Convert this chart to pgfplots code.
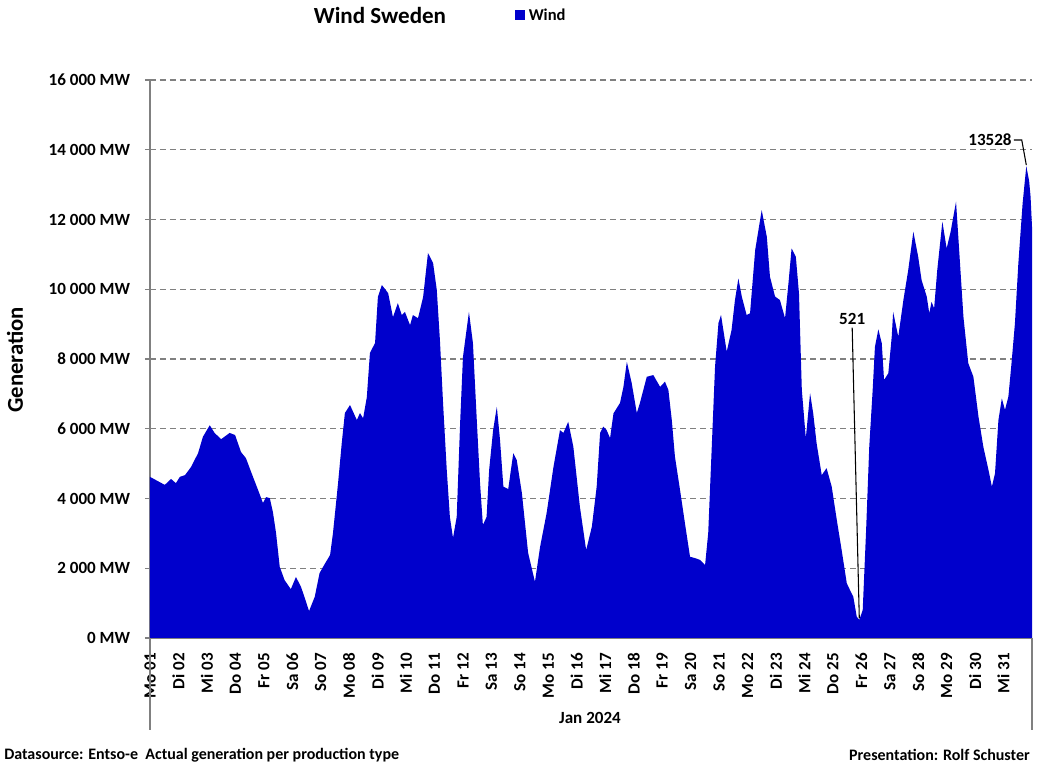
\documentclass[border=0pt]{standalone}
\usepackage{fontspec}
\setmainfont{Carlito}
\usepackage{pgfplots}
\pgfplotsset{compat=1.18}
\usepackage{pgfplotstable}
\definecolor{windblue}{RGB}{0,0,204}
\definecolor{gridgray}{RGB}{128,128,128}
\pgfplotstableread{
d MW
0.00 4620
0.52 4390
0.74 4560
0.91 4440
1.05 4620
1.23 4670
1.44 4900
1.69 5300
1.86 5770
2.10 6100
2.27 5880
2.50 5700
2.80 5880
2.99 5820
3.20 5330
3.37 5160
3.62 4620
3.80 4240
3.97 3870
4.08 4040
4.21 4010
4.32 3610
4.43 3010
4.56 2040
4.73 1660
4.95 1400
5.13 1750
5.31 1460
5.44 1150
5.59 770
5.79 1180
5.96 1860
6.14 2120
6.33 2380
6.43 3000
6.61 4440
6.74 5590
6.85 6450
7.03 6680
7.27 6250
7.38 6450
7.49 6300
7.62 6900
7.73 8170
7.91 8460
8.01 9780
8.15 10120
8.37 9890
8.54 9200
8.71 9600
8.85 9260
8.96 9350
9.14 8970
9.24 9260
9.42 9170
9.60 9780
9.77 11040
9.95 10750
10.08 9980
10.19 8540
10.30 6740
10.43 4820
10.54 3470
10.65 2870
10.78 3470
10.90 6160
11.00 8060
11.21 9350
11.35 8460
11.48 6340
11.60 4440
11.70 3240
11.83 3470
11.92 4820
12.06 5960
12.19 6630
12.30 5700
12.42 4340
12.59 4270
12.77 5300
12.89 5100
13.07 4160
13.29 2440
13.53 1610
13.71 2610
13.94 3580
14.18 4900
14.41 5960
14.53 5880
14.70 6200
14.88 5480
15.11 3760
15.33 2520
15.53 3190
15.70 4340
15.82 5880
15.93 6060
16.05 5960
16.17 5730
16.29 6440
16.52 6740
16.64 7200
16.76 7920
16.93 7310
17.11 6450
17.22 6740
17.46 7490
17.69 7540
17.93 7200
18.10 7350
18.22 7110
18.34 6250
18.45 5200
18.63 4240
18.80 3300
18.98 2330
19.16 2290
19.33 2240
19.51 2090
19.62 3010
19.74 5390
19.86 7780
19.98 9030
20.07 9260
20.27 8210
20.44 8830
20.56 9690
20.68 10310
20.80 9790
20.97 9260
21.09 9310
21.27 11120
21.50 12270
21.68 11500
21.79 10360
21.97 9790
22.14 9690
22.32 9170
22.44 10170
22.55 11170
22.70 10930
22.81 9880
22.91 7110
23.05 5730
23.20 7020
23.31 6440
23.43 5580
23.61 4670
23.78 4870
23.96 4340
24.14 3380
24.31 2520
24.49 1570
24.60 1380
24.72 1180
24.84 610
24.93 521
25.05 800
25.17 3100
25.28 5480
25.40 7110
25.48 8350
25.60 8850
25.72 8450
25.80 7400
25.95 7590
26.07 8640
26.12 9350
26.30 8640
26.48 9690
26.65 10550
26.83 11650
27.00 10930
27.12 10260
27.30 9790
27.39 9310
27.47 9640
27.56 9450
27.67 10550
27.85 11940
28.00 11170
28.14 11650
28.33 12510
28.41 11500
28.59 9210
28.76 7880
28.94 7490
29.12 6340
29.29 5480
29.47 4820
29.59 4340
29.70 4720
29.82 6250
29.94 6870
30.05 6540
30.17 6920
30.28 7880
30.40 9020
30.52 10740
30.67 12460
30.80 13528
30.90 13100
30.95 12650
31.00 11790
}\winddata
\begin{document}
\begin{tikzpicture}[font=\bfseries]
\useasboundingbox (0pt,0pt) rectangle (780pt,577.5pt);
\begin{axis}[
  at={(112.5pt,99pt)}, anchor=south west,
  width=661.5pt, height=418.5pt, scale only axis,
  xmin=0, xmax=31, ymin=0, ymax=16000,
  scaled y ticks=false,
  axis x line*=bottom, axis y line*=left,
  axis line style={gridgray, line width=0.9pt, -},
  xtick={0,1,...,30},
  xticklabels={Mo 01,Di 02,Mi 03,Do 04,Fr 05,Sa 06,So 07,Mo 08,Di 09,Mi 10,Do 11,Fr 12,Sa 13,So 14,Mo 15,Di 16,Mi 17,Do 18,Fr 19,Sa 20,So 21,Mo 22,Di 23,Mi 24,Do 25,Fr 26,Sa 27,So 28,Mo 29,Di 30,Mi 31},
  x tick label style={rotate=90, anchor=east, inner sep=0pt, font=\fontsize{12.8}{14}\bfseries},
  xticklabel shift=7.5pt,
  major x tick style={draw=none},
  ytick={0,2000,...,16000},
  yticklabels={0 MW,2 000 MW,4 000 MW,6 000 MW,8 000 MW,10 000 MW,12 000 MW,14 000 MW,16 000 MW},
  y tick label style={anchor=east, inner sep=0pt, font=\fontsize{12.8}{14}\bfseries},
  yticklabel shift=11pt,
  tick align=outside,
  major y tick style={gridgray, line width=0.9pt},
  major tick length=3.75pt,
  ymajorgrids,
  major grid style={gridgray, line width=1pt, dash pattern=on 4.5pt off 3pt},
  clip=false,
]
\addplot[fill=windblue, draw=none] table[x=d, y=MW] {\winddata} \closedcycle;
\draw[gridgray, line width=0.9pt] (axis cs:0,0) -- ++(0,-69pt);
\draw[gridgray, line width=0.9pt] (axis cs:31,0) -- ++(0,-69pt);
\draw[black, line width=0.8pt] (axis cs:24.68,8900) -- (axis cs:24.93,560);
\node[anchor=south, inner sep=1pt, font=\fontsize{12.8}{14}\bfseries] at (axis cs:24.68,8950) {521};
\draw[black, line width=0.8pt] (axis cs:30.36,14280) -- (axis cs:30.64,14280) -- (axis cs:30.80,13560);
\node[anchor=east, inner sep=1pt, font=\fontsize{12.8}{14}\bfseries] at (axis cs:30.34,14300) {13528};
\end{axis}
\begin{scope}[x=0.75pt,y=0.75pt]
\node[font=\fontsize{17.3}{20}\bfseries] at (380,754) {Wind Sweden};
\fill[windblue] (515,750) rectangle (525,760);
\node[anchor=west, inner sep=0pt, font=\fontsize{12.4}{14}\bfseries] at (528.5,755) {Wind};
\node[rotate=90, font=\fontsize{17}{20}\bfseries] at (15,410) {Generation};
\node[font=\fontsize{12.8}{14}\bfseries] at (590,52) {Jan 2024};
\node[anchor=west, inner sep=0pt, font=\fontsize{12}{14}\bfseries] at (4,15) {Datasource: Entso-e\ \ Actual generation per production type};
\node[anchor=east, inner sep=0pt, font=\fontsize{12}{14}\bfseries] at (1030,15) {Presentation: Rolf Schuster};
\end{scope}
\end{tikzpicture}
\end{document}
